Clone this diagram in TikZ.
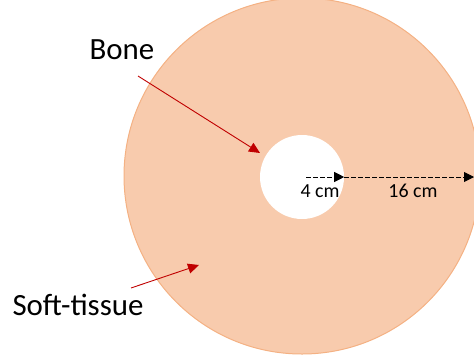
\documentclass[tikz,border=0pt]{standalone}
\usepackage{fontspec}
\setmainfont{Carlito}
\usetikzlibrary{arrows.meta}
\definecolor{tissuefill}{HTML}{F8CBAD}
\definecolor{tissueline}{HTML}{F4B183}
\definecolor{pointer}{HTML}{C00000}
\begin{document}
\begin{tikzpicture}[x=1bp, y=1bp, tissue/.style={circle, fill=tissuefill, draw=tissueline, line width=1bp, inner sep=0pt}, hole/.style={circle, fill=white, draw=none, inner sep=0pt}, biglabel/.style={font=\fontsize{31}{37}\selectfont}, smalllabel/.style={font=\fontsize{20}{24}\selectfont}, redarrow/.style={-{Triangle[length=11bp, width=10bp]}, pointer, line width=0.9bp}, radius line/.style={-{Triangle[length=10bp, width=10bp]}, dash pattern=on 4.5bp off 2.5bp, line width=0.9bp}]
        \useasboundingbox (0, 0) rectangle (474, 362);
        \clip (0, 0) rectangle (474, 362);
		\node[tissue, minimum size=356bp] (tissue) at (302, 186) {};
		\node[hole, minimum size=84bp] (bone) at (302, 185) {};
		\coordinate (start) at (306, 185);
		\coordinate (edge) at (474, 185);

		\node[biglabel] (bonelabel) at (122, 312) {Bone};
		\node[biglabel] (softlabel) at (78, 57) {Soft-tissue};
		\coordinate (bonefrom) at (138, 286);
		\coordinate (boneto) at (260, 209);
		\coordinate (softfrom) at (131, 74);
		\coordinate (softto) at (199, 97);

		\draw [radius line] (start) -- (bone.east);
		\draw [radius line] (bone.east) -- (edge);
		\node[smalllabel] (inner) at (320, 171) {4 cm};
		\node[smalllabel] (outer) at (413, 171) {16 cm};

		\draw [redarrow] (bonefrom) -- (boneto);
		\draw [redarrow] (softfrom) -- (softto);
	\end{tikzpicture}
\end{document}
